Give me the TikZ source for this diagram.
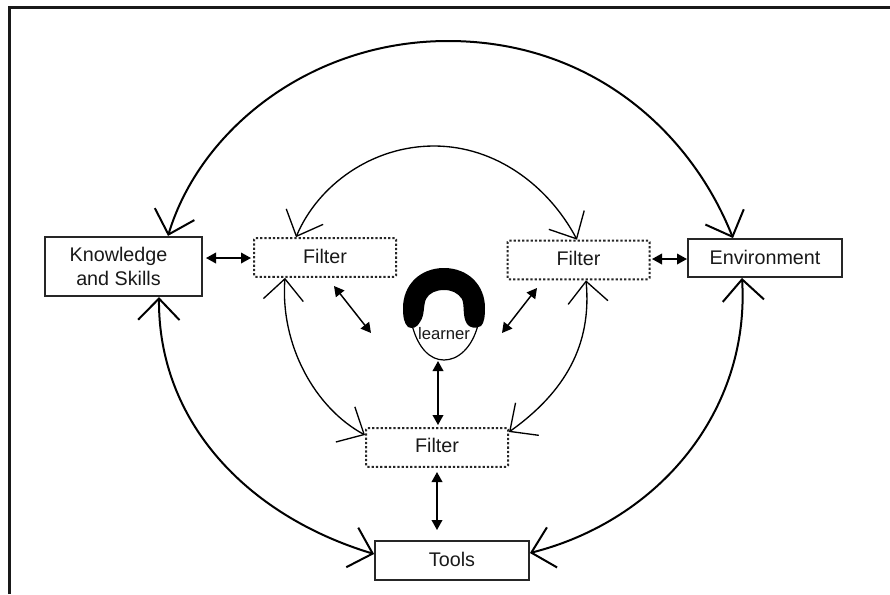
\documentclass[tikz,border=0pt]{standalone}
\usepackage{fontspec}
\setmainfont{Liberation Sans}
\usetikzlibrary{arrows.meta}
\tikzset{
  x=0.75pt,y=-0.75pt,
  solidbox/.style={draw=black!85,line width=1.4pt,inner sep=0pt,align=center,font=\fontsize{14.8pt}{18pt}\selectfont,text=black!90},
  filterbox/.style={draw=black!85,line width=1.5pt,dash pattern=on 1.7pt off 1.5pt,rounded corners=1pt,inner sep=0pt,minimum width=106.5pt,minimum height=29pt,font=\fontsize{14.8pt}{18pt}\selectfont,text=black!90},
  bigarc/.style={line width=1.5pt,black,{Straight Barb[length=16pt,width=31pt,line width=1.5pt]}-{Straight Barb[length=16pt,width=31pt,line width=1.5pt]}},
  smallarc/.style={line width=1pt,black,{Straight Barb[length=16pt,width=30pt,line width=1pt]}-{Straight Barb[length=16pt,width=30pt,line width=1pt]}},
  twoway/.style={line width=1.1pt,black,{Triangle[length=7.5pt,width=8pt]}-{Triangle[length=7.5pt,width=8pt]}},
}
\begin{document}
\begin{tikzpicture}
\useasboundingbox (0,0) rectangle (890,594);
\draw[line width=1.9pt,black!90] (9.7,594) -- (9.7,7.5) -- (890,7.5);
\node[solidbox,minimum width=117.5pt,minimum height=44.5pt] (ks) at (123.5,266.5) {\hspace*{-7.5pt}Knowledge\\\hspace*{-7.5pt}and Skills};
\node[solidbox,minimum width=115.5pt,minimum height=28.5pt] (env) at (765,258) {\raisebox{1.5pt}{Environment}};
\node[solidbox,minimum width=115.5pt,minimum height=29pt] (tools) at (452,560.5) {\raisebox{2pt}{Tools}};
\node[filterbox] (f1) at (325,257.5) {\raisebox{2pt}{Filter}};
\node[filterbox] (f2) at (578.5,260) {\raisebox{3pt}{Filter}};
\node[filterbox] (f3) at (437,447.5) {\raisebox{3.8pt}{Filter}};
% head
\draw[line width=0.9pt,fill=white] (412,325) .. controls (418,348) and (430,360) .. (444,360) .. controls (458,360) and (472,348) .. (478,325);
\fill[black] (408,327) .. controls (404,323) and (403,317) .. (403,308)
  .. controls (403,285) and (420,268) .. (444,268)
  .. controls (468,268) and (485,285) .. (485,308)
  .. controls (485,317) and (484,323) .. (481,326)
  .. controls (476,329) and (470,328) .. (467,324)
  .. controls (462,316) and (465,306) .. (462,299)
  .. controls (458,293) and (452,290) .. (444,290)
  .. controls (436,290) and (429,293) .. (426,299)
  .. controls (423,306) and (425,315) .. (420,322)
  .. controls (417,328) and (412,329) .. (408,327) -- cycle;
\node[inner sep=0pt,font=\fontsize{12.5pt}{14pt}\selectfont,text=black!90] (lab) at (444,333.5) {learner};
% free ends
\coordinate (hl) at (371,333);
\coordinate (hr) at (502,333);
\coordinate (hb) at (438,361);
% arcs
\draw[bigarc] (ks.north -| 168,0) .. controls (200,130) and (310,41) .. (448,41) .. controls (590,41) and (690,130) .. (env.north -| 733,0);
\draw[bigarc] (ks.south -| 159,0) .. controls (158,420) and (245,515) .. (tools.west |- 0,554);
\draw[bigarc] (env.south -| 742,0) .. controls (750,410) and (660,520) .. (tools.east |- 0,553);
\draw[smallarc] (f1.north -| 296,0) .. controls (318,185) and (372,146) .. (434,146) .. controls (495,146) and (548,185) .. (f2.north -| 577,0);
\draw[smallarc] (f1.south -| 285,0) .. controls (280,345) and (315,408) .. (f3.west |- 0,435);
\draw[smallarc] (f2.south -| 586,0) .. controls (592,345) and (565,392) .. (f3.east |- 0,432);
% two-way arrows
\draw[twoway] (206,258) -- (251,258);
\draw[twoway] (652,259) -- (687,259);
\draw[twoway] (334,286) -- (hl);
\draw[twoway] (537,288) -- (hr);
\draw[twoway] (hb) -- (438,425);
\draw[twoway] (437,472) -- (437,530);
\end{tikzpicture}
\end{document}
